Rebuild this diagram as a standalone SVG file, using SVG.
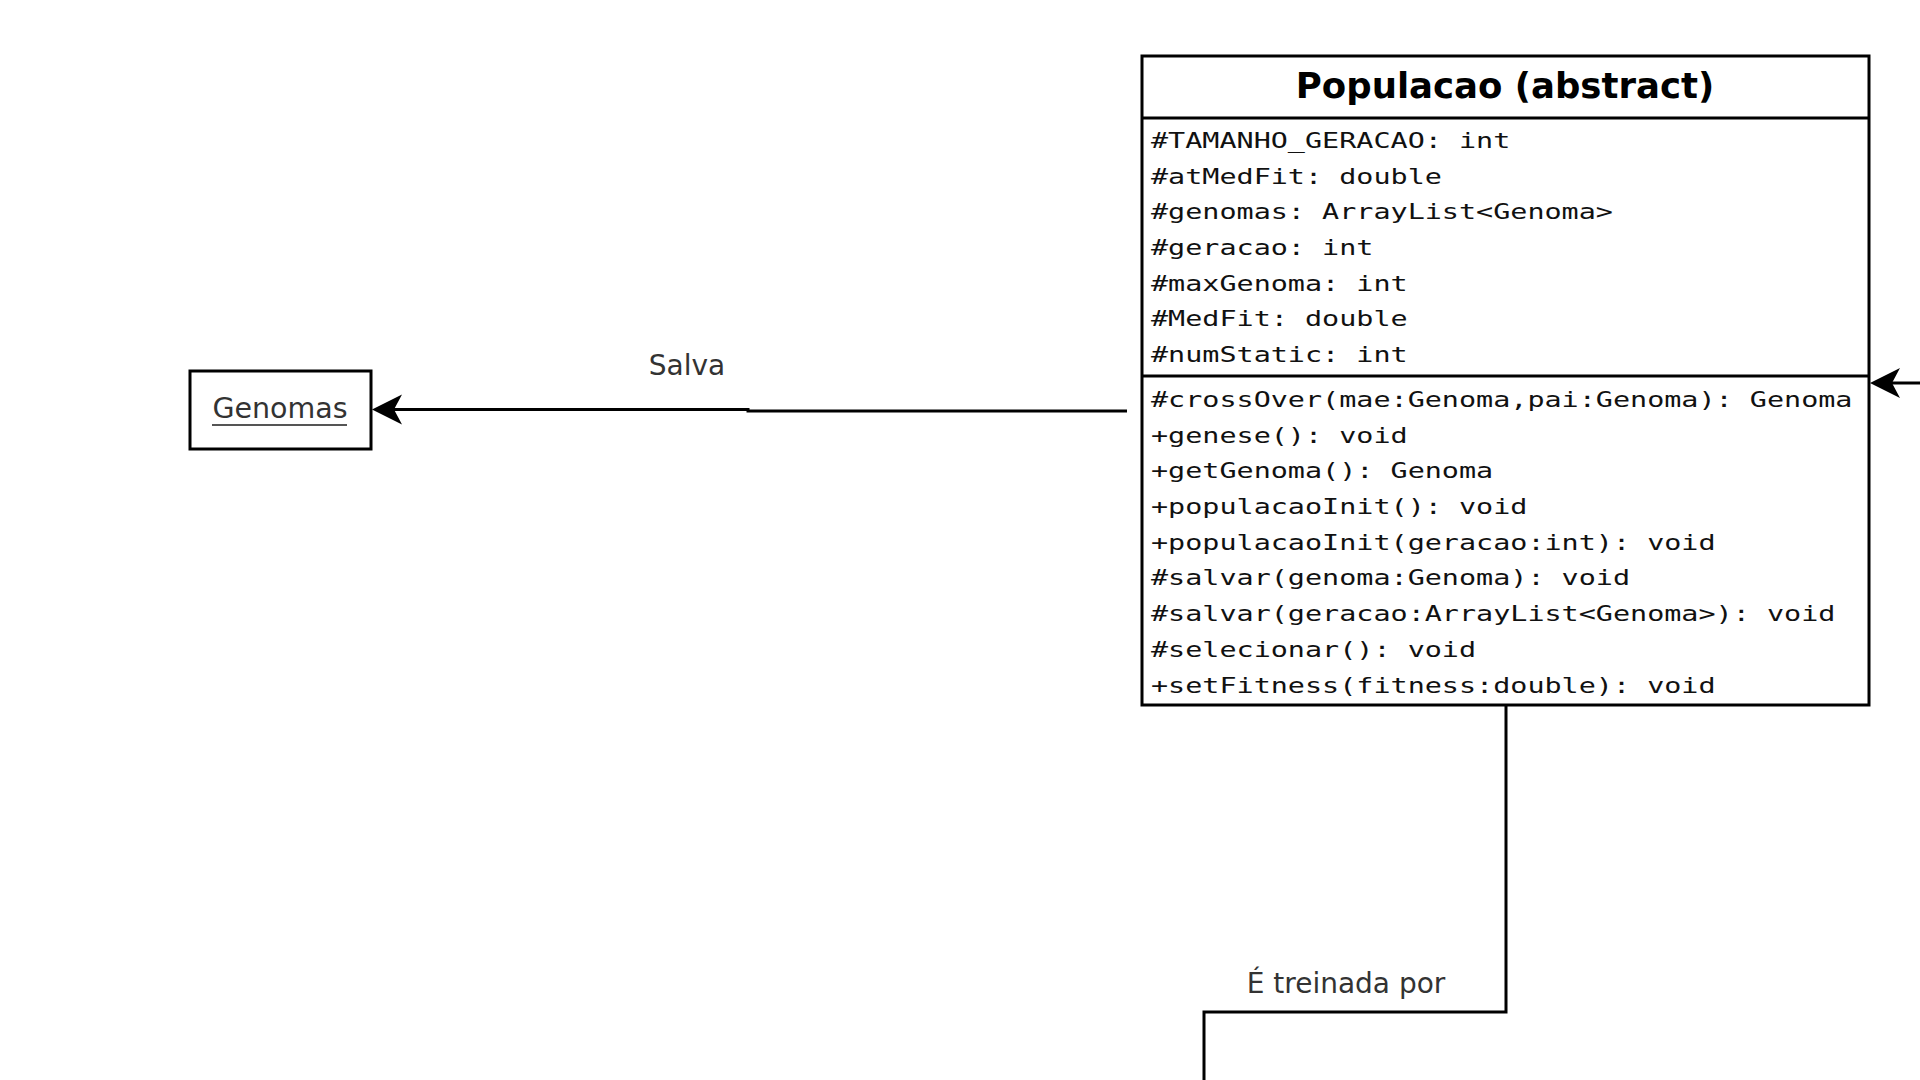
<svg xmlns="http://www.w3.org/2000/svg" width="1920" height="1080" viewBox="0 0 1920 1080">
<style>
.box{fill:#fff;stroke:#000;stroke-width:3}
.edge{fill:none;stroke:#000;stroke-width:3}
.mono{font-family:"DejaVu Sans Mono","Liberation Mono",monospace;font-size:22px;fill:#111}
.title{font-family:"DejaVu Sans","Liberation Sans",sans-serif;font-weight:bold;font-size:35.5px;fill:#000;text-anchor:middle}
.lbl{font-family:"DejaVu Sans","Liberation Sans",sans-serif;font-size:28px;fill:#333;text-anchor:middle}
</style>
<defs>
<marker id="arr" viewBox="-10 -17 34 34" refX="0" refY="0" markerWidth="34" markerHeight="34" markerUnits="userSpaceOnUse" orient="auto">
<path d="M22,0 L-8,-15 L0,0 L-8,15 Z" fill="#000"/>
</marker>
</defs>
<rect width="1920" height="1080" fill="#fff"/>
<g id="connectors">
<path class="edge" d="M1127,411 L748,411 L748,409.5 L394,409.5" marker-end="url(#arr)"/>
<path class="edge" d="M1920,383 L1892,383" marker-end="url(#arr)"/>
<path class="edge" d="M1506,706 L1506,1012 L1204,1012 L1204,1080"/>
<text class="lbl" x="687" y="375">Salva</text>
<text class="lbl" x="1346" y="993">É treinada por</text>
</g>
<g id="genomas">
<rect class="box" x="190" y="371" width="181" height="78"/>
<text class="lbl" x="280" y="418" style="font-size:28.5px">Genomas</text>
<line x1="212" y1="425" x2="347" y2="425" stroke="#555" stroke-width="2"/>
</g>
<g id="populacao">
<rect class="box" x="1142" y="56" width="727" height="649"/>
<line class="edge" x1="1142" y1="118" x2="1869" y2="118"/>
<line class="edge" x1="1142" y1="376" x2="1869" y2="376"/>
<text class="title" x="1505" y="98">Populacao (abstract)</text>
<g transform="translate(1151,0) scale(1.2925,1)" class="mono">
<text x="0" y="148.3">#TAMANHO_GERACAO: int</text>
<text x="0" y="183.9">#atMedFit: double</text>
<text x="0" y="219.5">#genomas: ArrayList&lt;Genoma&gt;</text>
<text x="0" y="255.1">#geracao: int</text>
<text x="0" y="290.7">#maxGenoma: int</text>
<text x="0" y="326.3">#MedFit: double</text>
<text x="0" y="361.9">#numStatic: int</text>
<text x="0" y="407">#crossOver(mae:Genoma,pai:Genoma): Genoma</text>
<text x="0" y="442.7">+genese(): void</text>
<text x="0" y="478.4">+getGenoma(): Genoma</text>
<text x="0" y="514.1">+populacaoInit(): void</text>
<text x="0" y="549.8">+populacaoInit(geracao:int): void</text>
<text x="0" y="585.5">#salvar(genoma:Genoma): void</text>
<text x="0" y="621.2">#salvar(geracao:ArrayList&lt;Genoma&gt;): void</text>
<text x="0" y="656.9">#selecionar(): void</text>
<text x="0" y="692.6">+setFitness(fitness:double): void</text>
</g>
</g>
</svg>
